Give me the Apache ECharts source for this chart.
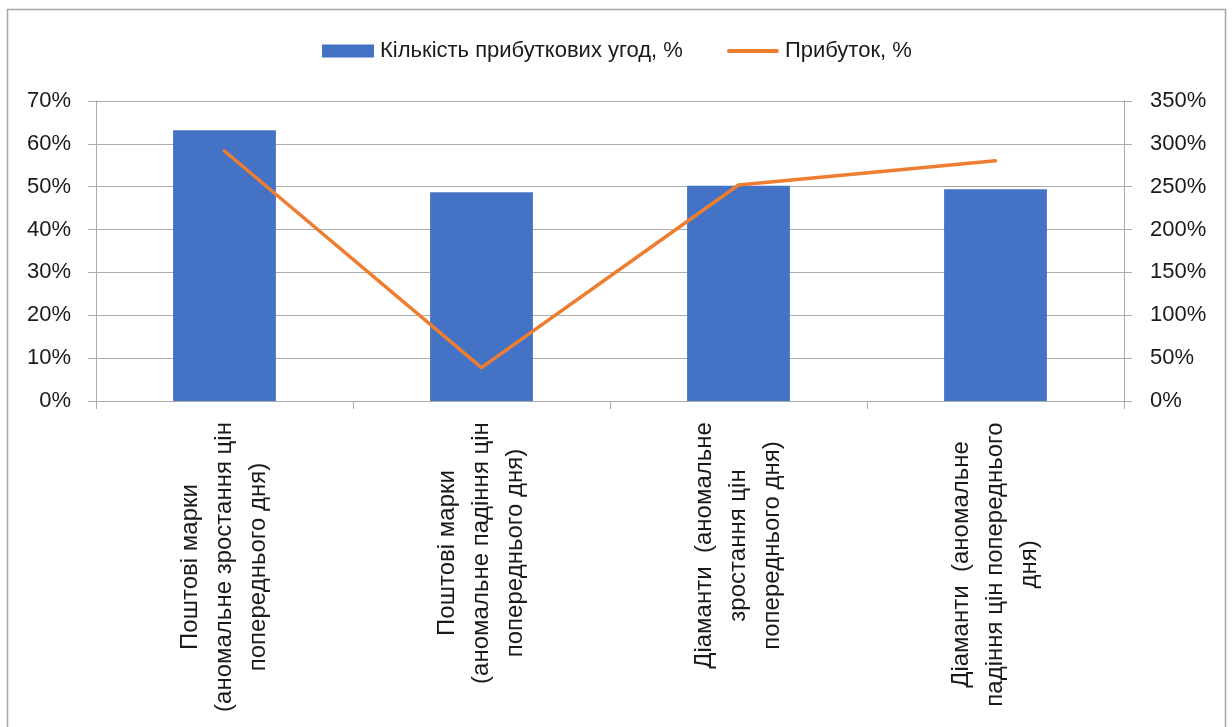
<!DOCTYPE html>
<html>
<head>
<meta charset="utf-8">
<script src="https://cdn.jsdelivr.net/npm/echarts@6.0.0/dist/echarts.min.js"></script>
<style>
  html, body { margin: 0; padding: 0; background: #fff; }
  #chart { width: 1232px; height: 727px; }
</style>
</head>
<body>
<div id="chart"></div>
<script>
// Category labels, one entry per line of the wrapped label
const categoryLines = [
  ['Поштові марки', '(аномальне зростання цін', 'попереднього дня)'],
  ['Поштові марки', '(аномальне падіння цін', 'попереднього дня)'],
  ['Діаманти  (аномальне', 'зростання цін', 'попереднього дня)'],
  ['Діаманти  (аномальне', 'падіння цін попереднього', 'дня)']
];
const categories = categoryLines.map(l => l.join(' '));

// Share of profitable trades, %
const profitableTrades = [63.2, 48.7, 50.2, 49.4];
// Profit, %
const profit = [291.7, 39.0, 252.0, 280.4];

const seriesNames = ['Кількість прибуткових угод, %', 'Прибуток, %'];

const leftTicks = { min: 0, max: 70, interval: 10 };
const rightTicks = { min: 0, max: 350, interval: 50 };

const FONT = '"Liberation Sans", "Noto Sans", Arial, sans-serif';
const LABEL_SIZE = 24;

// Measure each wrapped label so its lines can be centred within the block
const ctx = document.createElement('canvas').getContext('2d');
ctx.font = LABEL_SIZE + 'px ' + FONT;
const rich = {};
categoryLines.forEach((lines, i) => {
  const w = Math.max(...lines.map(s => ctx.measureText(s).width));
  rich['c' + i] = {
    width: Math.ceil(w) + 2,
    align: 'center',
    fontSize: LABEL_SIZE,
    lineHeight: 34,
    fontFamily: FONT,
    color: '#1a1a1a'
  };
});

const chart = echarts.init(document.getElementById('chart'), null, { renderer: 'canvas' });

const axisGray = '#ABABAB';

chart.setOption({
  backgroundColor: '#ffffff',
  animation: false,
  textStyle: { fontFamily: FONT },
  graphic: [{
    type: 'rect',
    shape: { x: 7.5, y: 9.5, width: 1218, height: 740 },
    style: { fill: 'none', stroke: '#A6A6A6', lineWidth: 1.5 },
    silent: true
  }],
  legend: {
    left: 317,
    top: 35,
    itemWidth: 52,
    itemHeight: 13,
    itemGap: 44,
    textStyle: { fontSize: 22, color: '#1a1a1a', fontFamily: FONT, padding: [0, 0, 0, 1] },
    data: [
      { name: seriesNames[0], icon: 'rect' },
      { name: seriesNames[1], icon: 'path://M2,0H50A2,2,0,0,1,50,4H2A2,2,0,0,1,2,0Z' }
    ]
  },
  grid: {
    left: 96,
    right: 108,
    top: 101,
    bottom: 326,
    containLabel: false,
    outerBoundsMode: 'none'
  },
  xAxis: {
    type: 'category',
    data: categories,
    boundaryGap: true,
    axisLine: { lineStyle: { color: axisGray, width: 1 } },
    axisTick: { show: true, length: 8, alignWithLabel: false, lineStyle: { color: axisGray } },
    axisLabel: {
      interval: 0,
      rotate: 90,
      margin: 20,
      formatter: (value, index) =>
        categoryLines[index].map(s => '{c' + index + '|' + s + '}').join('\n'),
      rich: rich
    }
  },
  yAxis: [
    {
      type: 'value',
      position: 'left',
      min: leftTicks.min,
      max: leftTicks.max,
      interval: leftTicks.interval,
      axisLine: { show: true, lineStyle: { color: axisGray, width: 1 } },
      axisTick: { show: true, length: 8, lineStyle: { color: axisGray } },
      splitLine: { show: true, lineStyle: { color: axisGray, width: 1 } },
      axisLabel: {
        formatter: '{value}%',
        fontSize: 22,
        color: '#1a1a1a',
        margin: 25,
        fontFamily: FONT
      }
    },
    {
      type: 'value',
      position: 'right',
      min: rightTicks.min,
      max: rightTicks.max,
      interval: rightTicks.interval,
      axisLine: { show: true, lineStyle: { color: axisGray, width: 1 } },
      axisTick: { show: true, length: 8, lineStyle: { color: axisGray } },
      splitLine: { show: false },
      axisLabel: {
        formatter: '{value}%',
        fontSize: 22,
        color: '#1a1a1a',
        margin: 26,
        fontFamily: FONT
      }
    }
  ],
  series: [
    {
      name: seriesNames[0],
      type: 'bar',
      yAxisIndex: 0,
      data: profitableTrades,
      barWidth: '40%',
      itemStyle: { color: '#4472C4' }
    },
    {
      name: seriesNames[1],
      type: 'line',
      yAxisIndex: 1,
      data: profit,
      symbol: 'none',
      lineStyle: { color: '#ED7D31', width: 3.5, cap: 'round', join: 'round' },
      itemStyle: { color: '#ED7D31' }
    }
  ]
});
</script>
</body>
</html>
